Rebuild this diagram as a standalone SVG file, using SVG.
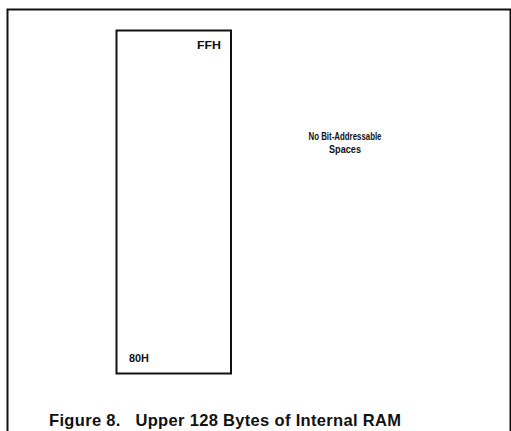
<svg xmlns="http://www.w3.org/2000/svg" width="511" height="431" viewBox="0 0 511 431">
<style>
.b{fill:none;stroke:#111;stroke-width:2}
.t{font-family:"Liberation Sans",Arial,sans-serif;font-weight:bold;fill:#111}
</style>
<rect width="511" height="431" fill="#fff"/>
<g id="frame"><path class="b" d="M7.5 440 V9.5 H510.5 V440"/></g>
<g id="ram">
<rect class="b" x="116.5" y="30.5" width="114.5" height="343"/>
<text class="t" x="221" y="49" font-size="11" text-anchor="end" textLength="24" lengthAdjust="spacingAndGlyphs">FFH</text>
<text class="t" x="129" y="362" font-size="11" textLength="20" lengthAdjust="spacingAndGlyphs">80H</text>
</g>
<g id="note">
<text class="t" x="345" y="139.5" font-size="10" text-anchor="middle" textLength="73" lengthAdjust="spacingAndGlyphs">No Bit-Addressable</text>
<text class="t" x="345" y="153" font-size="10" text-anchor="middle" textLength="32" lengthAdjust="spacingAndGlyphs">Spaces</text>
</g>
<g id="connectors"/>
<text class="t" x="49" y="426" font-size="16.5" textLength="352" xml:space="preserve">Figure 8.   Upper 128 Bytes of Internal RAM</text>
</svg>
